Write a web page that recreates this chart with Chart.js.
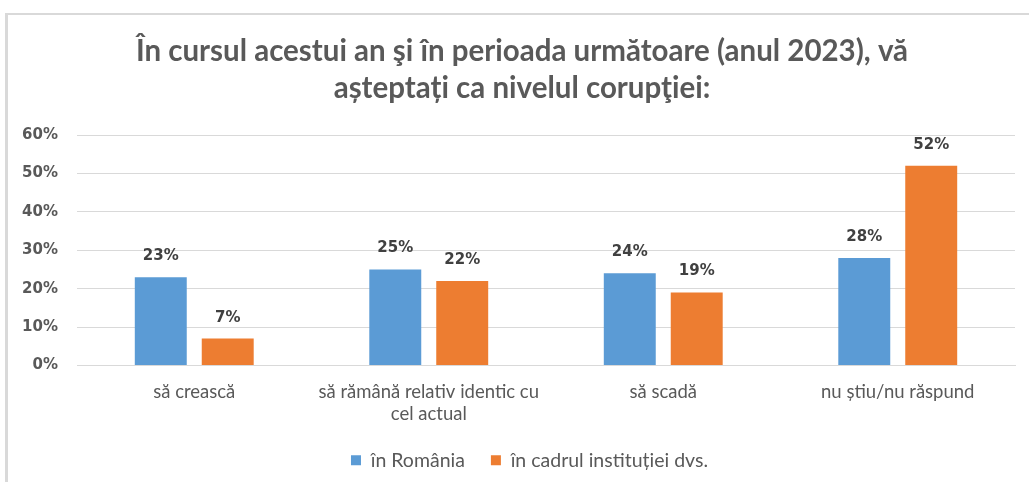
<!DOCTYPE html>
<html>
<head>
<meta charset="utf-8">
<script src="https://cdn.jsdelivr.net/npm/chart.js@4"></script>
<style>
  html, body { margin: 0; padding: 0; background: #fff; overflow: hidden; }
  #frame { position: absolute; left: 5px; top: 13px; width: 1100px; height: 500px;
           border-top: 2px solid #d9d9d9; border-left: 3px solid #d9d9d9; }
  #wrap { position: absolute; left: 0; top: 0; width: 1029px; height: 482px; }
</style>
</head>
<body>
<div id="frame"></div>
<div id="wrap"><canvas id="myChart"></canvas></div>
<script>
"use strict";

var categories = [
    "să crească",
    ["să rămână relativ identic cu", "cel actual"],
    "să scadă",
    "nu știu/nu răspund"
];
var seriesNames = ["în România", "în cadrul instituției dvs."];
var romania = [23, 25, 24, 28];
var institutie = [7, 22, 19, 52];
var yTicks = [0, 10, 20, 30, 40, 50, 60];
var titleLines = [
    "În cursul acestui an şi în perioada următoare (anul 2023), vă",
    "așteptați ca nivelul corupţiei:"
];

// draws the "23%" labels above each bar
var barLabels = {
    id: "barLabels",
    afterDatasetsDraw: function(chart) {
        var c = chart.ctx;
        c.save();
        c.font = "bold 15px 'DejaVu Sans'";
        c.fillStyle = "#404040";
        c.textAlign = "center";
        c.textBaseline = "middle";
        chart.data.datasets.forEach(function(ds, i) {
            chart.getDatasetMeta(i).data.forEach(function(bar, j) {
                c.fillText(ds.data[j] + "%", bar.x, bar.y - 21);
            });
        });
        c.restore();
    }
};

// title and legend sit a bit right of the plot centre in the original
var nudge = {
    id: "nudge",
    afterLayout: function(chart) {
        chart.titleBlock.left += 14.5;
        chart.titleBlock.right += 14.5;
        chart.legend.left += 22;
        chart.legend.right += 22;
    }
};

var ctx = document.getElementById("myChart");
var myChart = new Chart(ctx,
    {
        type: 'bar',
        data: {
            labels: categories,
            datasets: [
                {
                    label: seriesNames[0],
                    backgroundColor: "#5b9bd5",
                    data: romania
                },
                {
                    label: seriesNames[1],
                    backgroundColor: "#ed7d31",
                    data: institutie
                }
            ]
        },
        plugins: [barLabels, nudge],
        options: {
            responsive: true,
            maintainAspectRatio: false,
            animation: false,
            categoryPercentage: 0.571,
            barPercentage: 0.776,
            layout: {
                padding: { left: 0, right: 14, top: 0, bottom: 2 }
            },
            plugins: {
                title: {
                    display: true,
                    text: titleLines,
                    color: "#595959",
                    font: { family: "Lato", size: 29.5, weight: "bold", lineHeight: 1.255 },
                    padding: { top: 33, bottom: 28 }
                },
                legend: {
                    position: "bottom",
                    labels: {
                        boxWidth: 10,
                        boxHeight: 10,
                        color: "#595959",
                        padding: 26,
                        font: { family: "Lato", size: 19.5 }
                    }
                },
                tooltip: { enabled: false }
            },
            scales: {
                x: {
                    afterFit: function(axis) { axis.height = 59; },
                    grid: { display: false, drawTicks: false },
                    border: { color: "#d9d9d9" },
                    ticks: {
                        color: "#595959",
                        padding: 15,
                        maxRotation: 0,
                        font: { family: "Lato", size: 18.5, lineHeight: 1.2 }
                    }
                },
                y: {
                    min: yTicks[0],
                    max: yTicks[yTicks.length - 1],
                    afterBuildTicks: function(axis) {
                        axis.ticks = yTicks.map(function(v) { return { value: v }; });
                    },
                    afterFit: function(axis) { axis.width = 77; },
                    grid: { color: "#d9d9d9", drawTicks: false },
                    border: { display: false },
                    ticks: {
                        color: "#595959",
                        padding: 19,
                        font: { family: "DejaVu Sans", size: 15, weight: "bold" },
                        callback: function(v) { return v + "%"; }
                    }
                }
            }
        }
    });
</script>
</body>
</html>
